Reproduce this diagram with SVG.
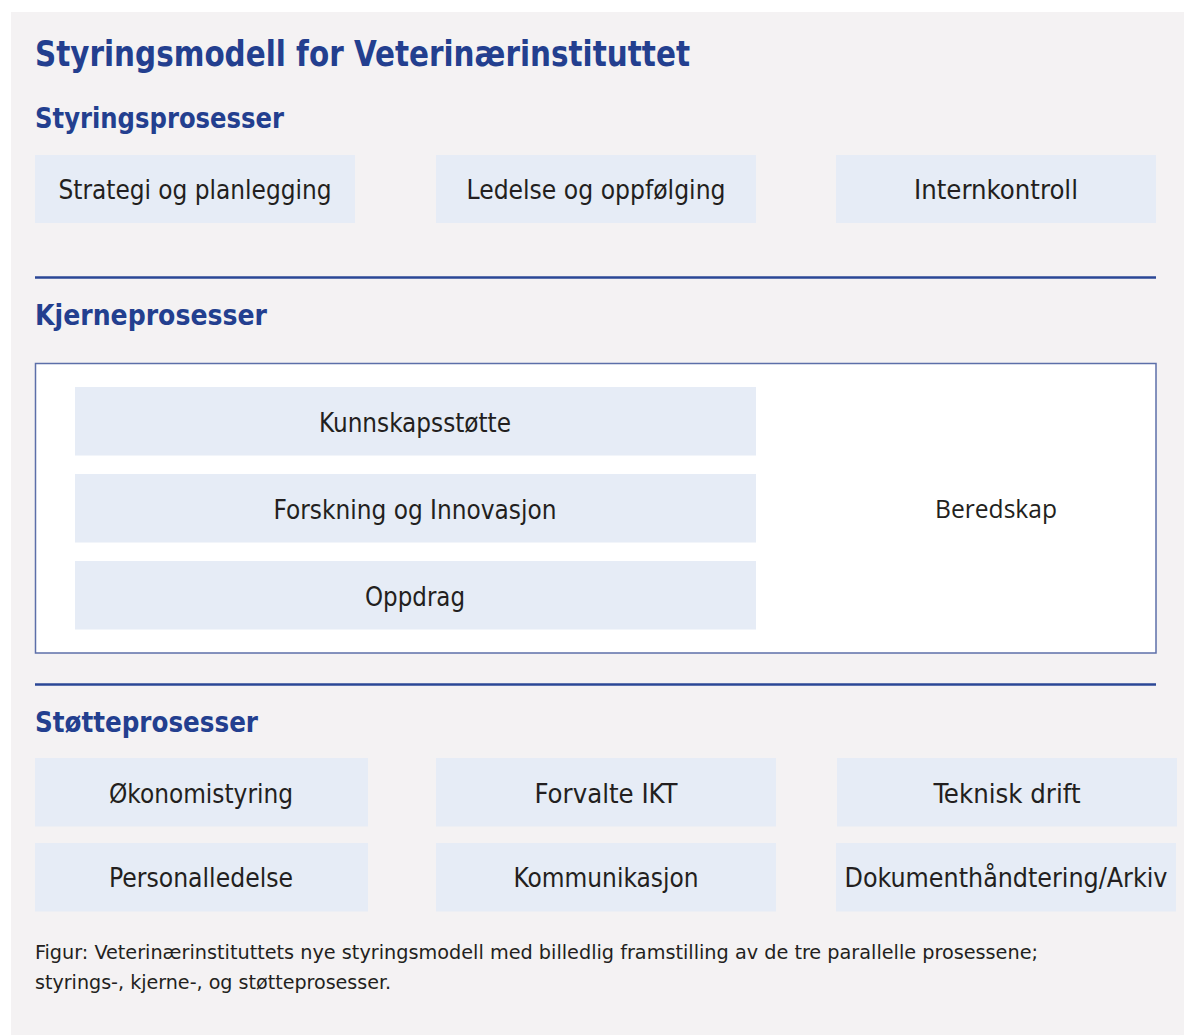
<svg xmlns="http://www.w3.org/2000/svg" width="1184" height="1035" viewBox="0 0 1184 1035">
<style>
.bg{fill:#f4f2f3}
.box{fill:#e6ecf6}
.t{font-family:"DejaVu Sans Condensed","DejaVu Sans",sans-serif;font-size:26px;fill:#231f20;text-anchor:middle}
.h{font-family:"DejaVu Sans Condensed","DejaVu Sans",sans-serif;font-weight:bold;fill:#233f8f}
.cap{font-family:"DejaVu Sans Condensed","DejaVu Sans",sans-serif;font-size:20px;fill:#231f20}
.rule{stroke:#2b4796;stroke-width:2.5}
</style>
<rect width="1184" height="1035" fill="#ffffff"/>
<rect class="bg" x="11" y="12" width="1173" height="1023"/>

<g id="headings">
<text class="h" x="35" y="66" font-size="36" textLength="655" lengthAdjust="spacingAndGlyphs">Styringsmodell for Veterinærinstituttet</text>
<text class="h" x="35" y="128" font-size="29" textLength="249" lengthAdjust="spacingAndGlyphs">Styringsprosesser</text>
<text class="h" x="35" y="325" font-size="29" textLength="232" lengthAdjust="spacingAndGlyphs">Kjerneprosesser</text>
<text class="h" x="35" y="732" font-size="29" textLength="223" lengthAdjust="spacingAndGlyphs">Støtteprosesser</text>
</g>

<g id="connectors">
<line class="rule" x1="35" y1="277.5" x2="1156" y2="277.5"/>
<line class="rule" x1="35" y1="684.5" x2="1156" y2="684.5"/>
</g>

<g id="styring-strategi"><rect class="box" x="35" y="155" width="320" height="68"/><text class="t" x="195" y="199" textLength="273" lengthAdjust="spacingAndGlyphs">Strategi og planlegging</text></g>
<g id="styring-ledelse"><rect class="box" x="436" y="155" width="320" height="68"/><text class="t" x="596" y="199" textLength="259" lengthAdjust="spacingAndGlyphs">Ledelse og oppfølging</text></g>
<g id="styring-internkontroll"><rect class="box" x="836" y="155" width="320" height="68"/><text class="t" x="996" y="199" textLength="164" lengthAdjust="spacingAndGlyphs">Internkontroll</text></g>

<g id="kjerne">
<rect x="35.5" y="363.5" width="1120.5" height="289.5" fill="#ffffff" stroke="#5c6fa9" stroke-width="1.5"/>
<g id="beredskap"><text x="996" y="518" font-family="'Open Sans','Noto Sans',sans-serif" font-size="26" fill="#231f20" text-anchor="middle" textLength="122" lengthAdjust="spacingAndGlyphs">Beredskap</text></g>
</g>
<g id="kjerne-kunnskap"><rect class="box" x="75" y="387" width="681" height="68.5"/><text class="t" x="415" y="432" textLength="192" lengthAdjust="spacingAndGlyphs">Kunnskapsstøtte</text></g>
<g id="kjerne-forskning"><rect class="box" x="75" y="474" width="681" height="68.5"/><text class="t" x="415" y="519" textLength="283" lengthAdjust="spacingAndGlyphs">Forskning og Innovasjon</text></g>
<g id="kjerne-oppdrag"><rect class="box" x="75" y="561" width="681" height="68.5"/><text class="t" x="415" y="606" textLength="100" lengthAdjust="spacingAndGlyphs">Oppdrag</text></g>

<g id="stotte-okonomi"><rect class="box" x="35" y="758" width="333" height="68.5"/><text class="t" x="201" y="803" textLength="184" lengthAdjust="spacingAndGlyphs">Økonomistyring</text></g>
<g id="stotte-ikt"><rect class="box" x="436" y="758" width="340" height="68.5"/><text class="t" x="606" y="803" textLength="143" lengthAdjust="spacingAndGlyphs">Forvalte IKT</text></g>
<g id="stotte-teknisk"><rect class="box" x="837" y="758" width="340" height="68.5"/><text class="t" x="1007" y="803" textLength="147" lengthAdjust="spacingAndGlyphs">Teknisk drift</text></g>
<g id="stotte-personal"><rect class="box" x="35" y="843" width="333" height="68.5"/><text class="t" x="201" y="887" textLength="184" lengthAdjust="spacingAndGlyphs">Personalledelse</text></g>
<g id="stotte-kommunikasjon"><rect class="box" x="436" y="843" width="340" height="68.5"/><text class="t" x="606" y="887" textLength="185" lengthAdjust="spacingAndGlyphs">Kommunikasjon</text></g>
<g id="stotte-dokument"><rect class="box" x="836" y="843" width="340" height="68.5"/><text class="t" x="1006" y="887" textLength="323" lengthAdjust="spacingAndGlyphs">Dokumenthåndtering/Arkiv</text></g>

<g id="caption">
<text class="cap" x="35" y="959" textLength="1003" lengthAdjust="spacingAndGlyphs">Figur: Veterinærinstituttets nye styringsmodell med billedlig framstilling av de tre parallelle prosessene;</text>
<text class="cap" x="35" y="989" textLength="356" lengthAdjust="spacingAndGlyphs">styrings-, kjerne-, og støtteprosesser.</text>
</g>
</svg>
